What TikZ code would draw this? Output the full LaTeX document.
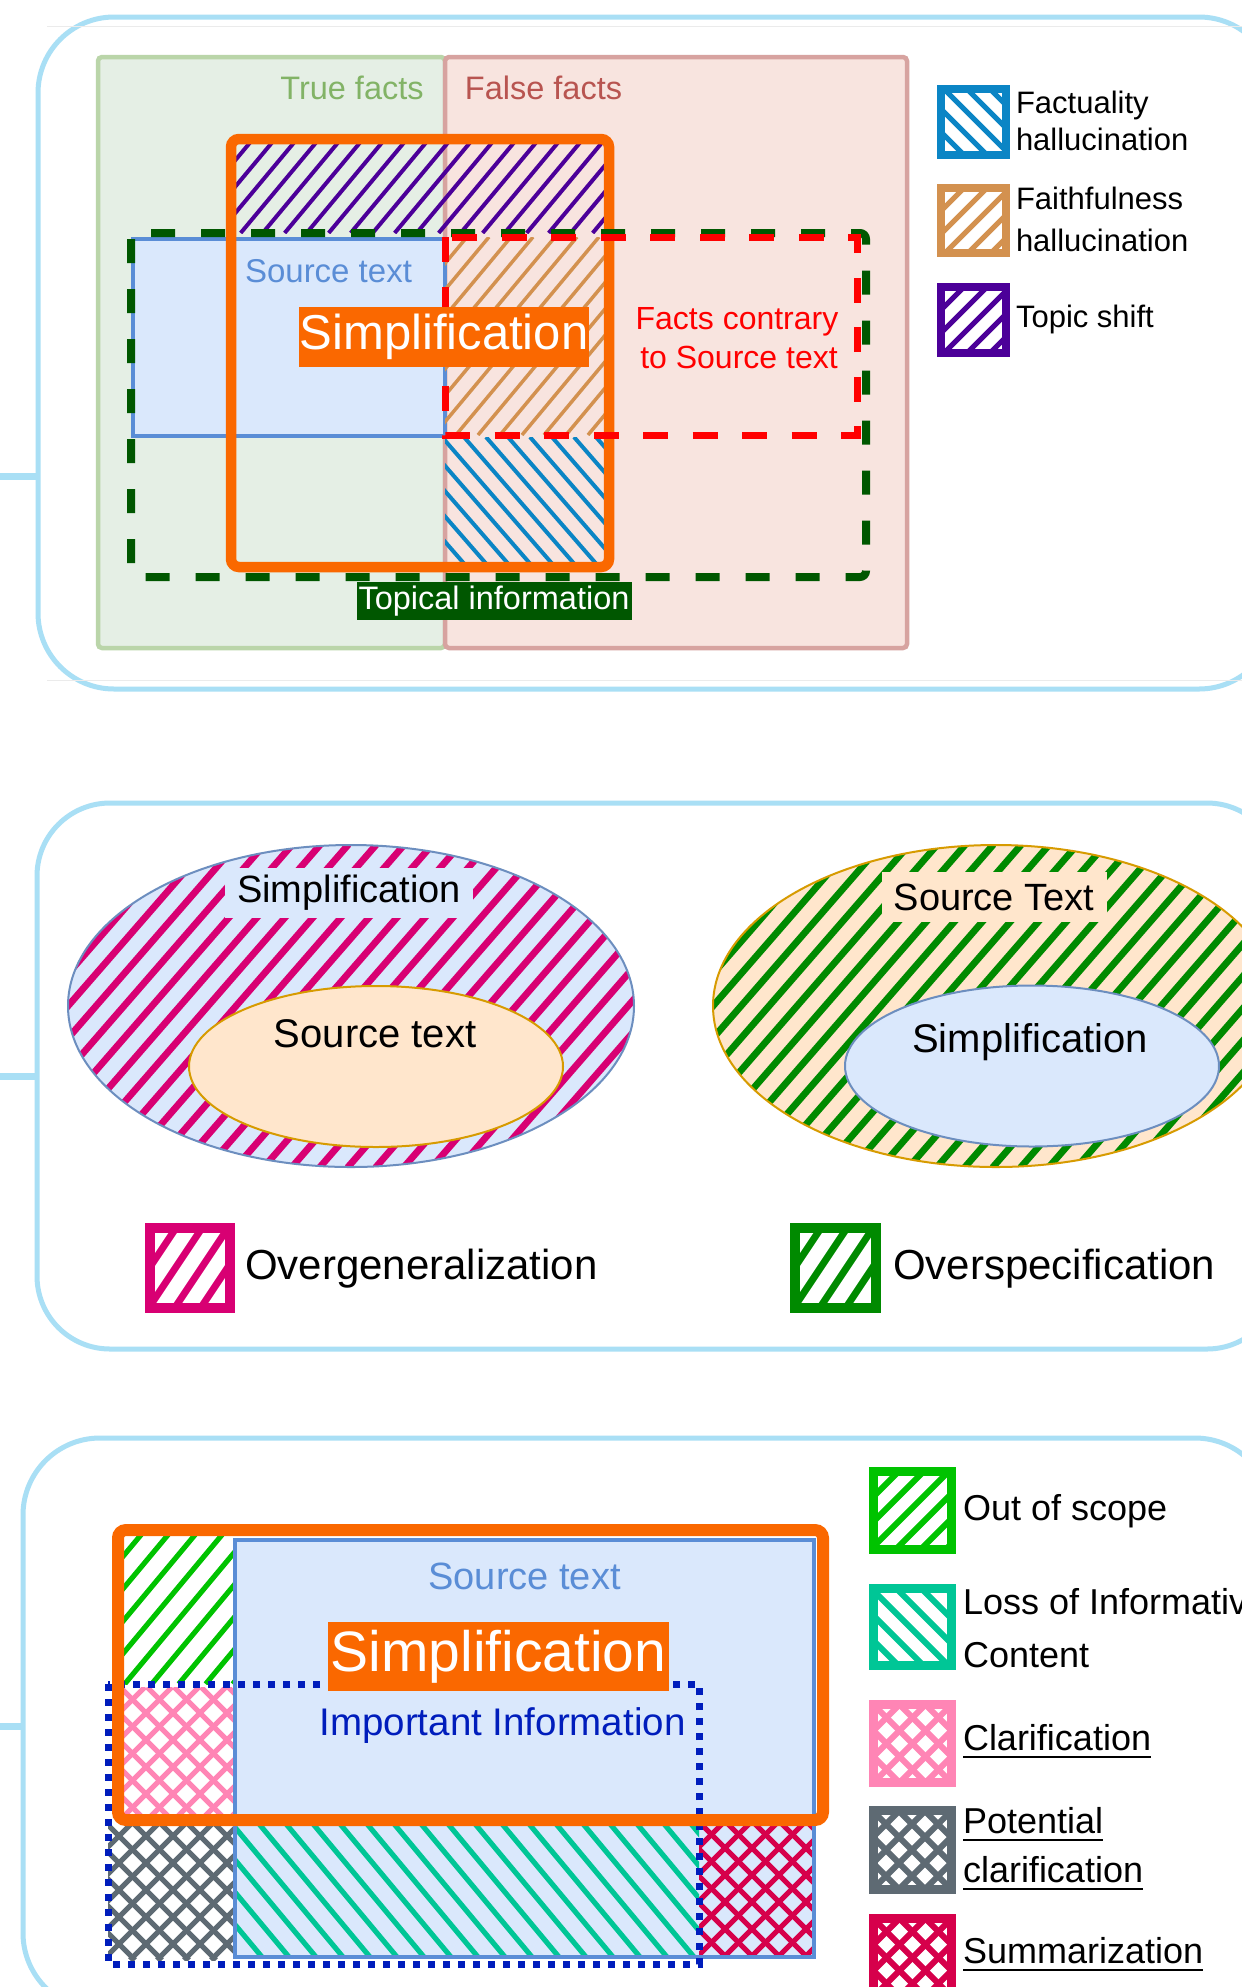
\documentclass[tikz,border=0pt]{standalone}
\usepackage{fontspec}
\setmainfont{Liberation Sans}
\definecolor{frameblue}{HTML}{A9DFF5}
\definecolor{truefill}{HTML}{E5EFE5}
\definecolor{truestroke}{HTML}{BAD5A9}
\definecolor{truetext}{HTML}{82B366}
\definecolor{falsefill}{HTML}{F8E4DF}
\definecolor{falsestroke}{HTML}{D7A3A0}
\definecolor{falsetext}{HTML}{B85450}
\definecolor{simporange}{HTML}{FA6800}
\definecolor{srcfill}{HTML}{DAE8FC}
\definecolor{srcstroke}{HTML}{5A8DD6}
\definecolor{topgreen}{HTML}{005700}
\definecolor{contrared}{HTML}{FF0000}
\definecolor{topicpurple}{HTML}{4C0099}
\definecolor{faithtan}{HTML}{D3914F}
\definecolor{factblue}{HTML}{0B85C5}
\definecolor{ellblue}{HTML}{6C8EBF}
\definecolor{peachfill}{HTML}{FFE6CC}
\definecolor{peachstroke}{HTML}{D79B00}
\definecolor{overgen}{HTML}{D80073}
\definecolor{overspec}{HTML}{008A00}
\definecolor{scopegreen}{HTML}{00C300}
\definecolor{lossteal}{HTML}{00C696}
\definecolor{clarpink}{HTML}{FF85B5}
\definecolor{potgray}{HTML}{5E6A73}
\definecolor{summcrimson}{HTML}{D6004B}
\definecolor{impblue}{HTML}{001DBC}
\newcommand{\fsz}[2]{\fontsize{#1}{#2}\selectfont}
\newcommand{\ulbox}[1]{\leavevmode\setbox0=\hbox{#1}\rlap{\rule[-3.75pt]{\wd0}{1pt}}\box0}
% "/" hatch: xmin ymin xmax ymax spacing tan style
\newcommand{\hatchfwd}[7]{%
  \pgfmathsetmacro\hH{(#4)-(#2)}%
  \pgfmathsetmacro\hD{\hH/(#6)}%
  \pgfmathsetmacro\hA{(#1)-\hD}%
  \pgfmathsetmacro\hB{\hA+(#5)}%
  \foreach \hx in {\hA,\hB,...,#3}{\draw[#7] (\hx,#4) -- ++(\hD,-\hH);}%
}
% "\" hatch
\newcommand{\hatchbwd}[7]{%
  \pgfmathsetmacro\hH{(#4)-(#2)}%
  \pgfmathsetmacro\hD{\hH/(#6)}%
  \pgfmathsetmacro\hA{(#1)-\hD}%
  \pgfmathsetmacro\hB{\hA+(#5)}%
  \foreach \hx in {\hA,\hB,...,#3}{\draw[#7] (\hx,#2) -- ++(\hD,\hH);}%
}
\begin{document}
\begin{tikzpicture}[x=0.5pt,y=-0.5pt,
  frame/.style={draw=frameblue,line width=2.5pt},
  stub/.style={draw=frameblue,line width=3.5pt},
  txt/.style={inner sep=0pt,outer sep=0pt},
  labelbox/.style={inner sep=0pt,outer sep=0pt}]
\fill[white] (0,0) rectangle (1242,1987);
\path[use as bounding box] (0,0) rectangle (1242,1987);
\clip (0,0) rectangle (1242,1987);

% ---------- panel frames ----------
\draw[frame,rounded corners=38pt] (38,17) rectangle (1275,689);
\draw[frame,rounded corners=36.5pt] (37,803) rectangle (1280,1349);
\draw[frame,rounded corners=38.5pt] (23,1438) rectangle (1272,2010);
\coordinate (s1) at (0,476);  \coordinate (f1) at (38,476);
\coordinate (s2) at (0,1076); \coordinate (f2) at (37,1076);
\coordinate (s3) at (0,1726); \coordinate (f3) at (23,1726);
\draw[stub] (s1) -- (f1);
\draw[stub] (s2) -- (f2);
\draw[stub] (s3) -- (f3);
\draw[black!8,line width=0.5pt] (47,26) -- (1242,26);
\draw[black!8,line width=0.5pt] (47,680) -- (1242,680);

% ---------- panel 1 ----------
\draw[fill=truefill,draw=truestroke,line width=2.25pt,rounded corners=2pt] (98,57) rectangle (445,648);
\draw[fill=falsefill,draw=falsestroke,line width=2.25pt,rounded corners=2pt] (445,57) rectangle (907,648);
\draw[fill=srcfill,draw=srcstroke,line width=2pt] (133,239) rectangle (445,436);
\begin{scope}
  \clip (231,139) rectangle (609,233);
  \hatchfwd{231}{139}{609}{233}{22}{1.2}{topicpurple,line width=2pt}
\end{scope}
\begin{scope}
  \clip (445,237) rectangle (609,435);
  \hatchfwd{445}{237}{609}{435}{22}{1.2}{faithtan,line width=1.75pt}
\end{scope}
\begin{scope}
  \clip (445,437) rectangle (609,567);
  \hatchbwd{445}{437}{609}{567}{22}{1.15}{factblue,line width=2pt}
\end{scope}
\draw[simporange,line width=5.25pt,rounded corners=4pt] (231,139) rectangle (609,567);
\draw[topgreen,line width=4pt,dash pattern=on 12pt off 13pt,rounded corners=3pt] (131,233) rectangle (866,577);
\draw[contrared,line width=3.5pt,dash pattern=on 12.5pt off 12.25pt] (445,237) rectangle (857,435);

\node[txt,text=truetext,font=\fsz{16.25}{19.5},anchor=base] (truefacts) at (352,99) {True facts};
\node[txt,text=falsetext,font=\fsz{16.25}{19.5},anchor=base] (falsefacts) at (543.5,99) {False facts};
\node[txt,text=srcstroke,font=\fsz{16.5}{19.8},anchor=base] (src1) at (328.5,282) {Source text};
\node[labelbox,fill=simporange,text=white,font=\fsz{24.5}{29},minimum width=145pt,minimum height=30pt] (simp1) at (444,337) {Simplification};
\node[txt,text=contrared,font=\fsz{16}{19.2},anchor=base] (fcA) at (737,329) {Facts contrary};
\node[txt,text=contrared,font=\fsz{16}{19.2},anchor=base] (fcB) at (739,368) {to Source text};
\node[labelbox,fill=topgreen,text=white,font=\fsz{16.25}{19.5},minimum width=137.5pt,minimum height=19pt] (topical) at (494,601) {Topical information};

% legend panel 1
\begin{scope}
  \clip (941,89) rectangle (1006,155);
  \hatchbwd{941}{89}{1006}{155}{23}{1.0}{factblue,line width=2.5pt}
\end{scope}
\draw[factblue,line width=4pt] (941,89) rectangle (1006,155);
\begin{scope}
  \clip (941,188) rectangle (1006,253);
  \hatchfwd{941}{188}{1006}{253}{23}{1.0}{faithtan,line width=2.5pt}
\end{scope}
\draw[faithtan,line width=4pt] (941,188) rectangle (1006,253);
\begin{scope}
  \clip (941,287) rectangle (1006,353);
  \hatchfwd{941}{287}{1006}{353}{23}{1.0}{topicpurple,line width=2.5pt}
\end{scope}
\draw[topicpurple,line width=4pt] (941,287) rectangle (1006,353);
\node[txt,font=\fsz{15.5}{18.6},anchor=base west] (lgA1) at (1016,113) {Factuality};
\node[txt,font=\fsz{15.5}{18.6},anchor=base west] (lgA2) at (1016,150) {hallucination};
\node[txt,font=\fsz{15.5}{18.6},anchor=base west] (lgB1) at (1016,209) {Faithfulness};
\node[txt,font=\fsz{15.5}{18.6},anchor=base west] (lgB2) at (1016,251) {hallucination};
\node[txt,font=\fsz{15.5}{18.6},anchor=base west] (lgC1) at (1016,327) {Topic shift};

% ---------- panel 2 ----------
\fill[srcfill] (351,1006) ellipse [x radius=141.5pt,y radius=80.5pt];
\begin{scope}
  \clip (351,1006) ellipse [x radius=141.5pt,y radius=80.5pt];
  \hatchfwd{68}{845}{634}{1167}{28}{1.15}{overgen,line width=3.4pt,line cap=round}
\end{scope}
\draw[ellblue,line width=1pt] (351,1006) ellipse [x radius=141.5pt,y radius=80.5pt];
\draw[fill=peachfill,draw=peachstroke,line width=1pt] (376,1066.5) ellipse [x radius=93.5pt,y radius=40.25pt];
\node[labelbox,fill=srcfill,font=\fsz{19}{23},minimum width=124pt,minimum height=25pt] (lsimp) at (349,893) {Simplification};
\node[txt,font=\fsz{20}{24},anchor=base] (lsrc) at (375,1047) {Source text};

\fill[peachfill] (996,1006) ellipse [x radius=141.5pt,y radius=80.5pt];
\begin{scope}
  \clip (996,1006) ellipse [x radius=141.5pt,y radius=80.5pt];
  \hatchfwd{713}{845}{1279}{1167}{28}{1.15}{overspec,line width=3.4pt,line cap=round}
\end{scope}
\draw[peachstroke,line width=1pt] (996,1006) ellipse [x radius=141.5pt,y radius=80.5pt];
\draw[fill=srcfill,draw=ellblue,line width=1pt] (1032,1066) ellipse [x radius=93.5pt,y radius=40.25pt];
\node[labelbox,fill=peachfill,font=\fsz{19}{23},minimum width=112.5pt,minimum height=25pt] (rsrc) at (994,897) {Source Text};
\node[txt,font=\fsz{20}{24},anchor=base] (rsimp) at (1030,1052) {Simplification};

% legend panel 2
\begin{scope}
  \clip (150,1228) rectangle (230,1308);
  \hatchfwd{150}{1228}{230}{1308}{26}{1.5}{overgen,line width=3.5pt}
\end{scope}
\draw[overgen,line width=5pt] (150,1228) rectangle (230,1308);
\begin{scope}
  \clip (795,1228) rectangle (876,1308);
  \hatchfwd{795}{1228}{876}{1308}{26}{1.5}{overspec,line width=3.5pt}
\end{scope}
\draw[overspec,line width=5pt] (795,1228) rectangle (876,1308);
\node[txt,font=\fsz{21}{25},anchor=base west] (ogen) at (245,1279) {Overgeneralization};
\node[txt,font=\fsz{21}{25},anchor=base west] (ospec) at (893,1279) {Overspecification};

% ---------- panel 3 ----------
\fill[srcfill] (235,1540) rectangle (814,1957);
\begin{scope}
  \clip (118,1530) rectangle (233,1684);
  \hatchfwd{118}{1530}{233}{1684}{27}{1.2}{scopegreen,line width=2.6pt}
\end{scope}
\begin{scope}
  \clip (118,1687) rectangle (233,1820);
  \hatchfwd{118}{1687}{233}{1820}{27}{1.0}{clarpink,line width=2.6pt}
  \hatchbwd{118}{1687}{233}{1820}{27}{1.0}{clarpink,line width=2.6pt}
\end{scope}
\begin{scope}
  \clip (108,1820) rectangle (233,1960);
  \hatchfwd{108}{1820}{233}{1960}{27}{1.0}{potgray,line width=2.6pt}
  \hatchbwd{108}{1820}{233}{1960}{27}{1.0}{potgray,line width=2.6pt}
\end{scope}
\begin{scope}
  \clip (235,1820) rectangle (699,1957);
  \hatchbwd{235}{1820}{699}{1957}{27}{1.2}{lossteal,line width=2.6pt}
\end{scope}
\begin{scope}
  \clip (699,1820) rectangle (814,1957);
  \hatchfwd{699}{1820}{814}{1957}{27}{1.0}{summcrimson,line width=2.6pt}
  \hatchbwd{699}{1820}{814}{1957}{27}{1.0}{summcrimson,line width=2.6pt}
\end{scope}
\draw[srcstroke,line width=2pt] (235,1540) rectangle (814,1957);
\draw[impblue,line width=3.5pt,dash pattern=on 3.5pt off 4pt] (108,1684) rectangle (699,1964);
\draw[simporange,line width=6pt,rounded corners=4pt] (118,1530) rectangle (823,1820);
\node[txt,text=srcstroke,font=\fsz{19}{23},anchor=base] (src3) at (524.5,1589) {Source text};
\node[labelbox,fill=simporange,text=white,font=\fsz{28.5}{34},minimum width=170.5pt,minimum height=34.5pt] (simp3) at (498.5,1656.5) {Simplification};
\node[txt,text=impblue,font=\fsz{19.25}{23},anchor=base] (impinfo) at (502.5,1735) {Important Information};

% legend panel 3
\begin{scope}
  \clip (873.5,1471.5) rectangle (951.5,1549.5);
  \hatchfwd{873.5}{1471.5}{951.5}{1549.5}{25}{1.0}{scopegreen,line width=3pt}
\end{scope}
\draw[scopegreen,line width=4.5pt] (873.5,1471.5) rectangle (951.5,1549.5);
\begin{scope}
  \clip (873.5,1588.5) rectangle (951.5,1665.5);
  \hatchbwd{873.5}{1588.5}{951.5}{1665.5}{25}{1.0}{lossteal,line width=3pt}
\end{scope}
\draw[lossteal,line width=4.5pt] (873.5,1588.5) rectangle (951.5,1665.5);
\begin{scope}
  \clip (873.5,1704.5) rectangle (951.5,1782.5);
  \hatchfwd{873.5}{1704.5}{951.5}{1782.5}{26}{1.0}{clarpink,line width=3pt}
  \hatchbwd{873.5}{1704.5}{951.5}{1782.5}{26}{1.0}{clarpink,line width=3pt}
\end{scope}
\draw[clarpink,line width=4.5pt] (873.5,1704.5) rectangle (951.5,1782.5);
\begin{scope}
  \clip (873.5,1810.5) rectangle (951.5,1889.5);
  \hatchfwd{873.5}{1810.5}{951.5}{1889.5}{26}{1.0}{potgray,line width=3pt}
  \hatchbwd{873.5}{1810.5}{951.5}{1889.5}{26}{1.0}{potgray,line width=3pt}
\end{scope}
\draw[potgray,line width=4.5pt] (873.5,1810.5) rectangle (951.5,1889.5);
\begin{scope}
  \clip (873.5,1918.5) rectangle (951.5,1996.5);
  \hatchfwd{873.5}{1918.5}{951.5}{1996.5}{26}{1.0}{summcrimson,line width=3pt}
  \hatchbwd{873.5}{1918.5}{951.5}{1996.5}{26}{1.0}{summcrimson,line width=3pt}
\end{scope}
\draw[summcrimson,line width=4.5pt] (873.5,1918.5) rectangle (951.5,1996.5);
\node[txt,font=\fsz{18}{21.6},anchor=base west] (lgscope) at (963,1520) {Out of scope};
\node[txt,font=\fsz{18}{21.6},anchor=base west] (lglossA) at (963,1614.5) {Loss of Informative};
\node[txt,font=\fsz{18}{21.6},anchor=base west] (lglossB) at (963,1667.5) {Content};
\node[txt,font=\fsz{18}{21.6},anchor=base west] (lgclar) at (963,1750.5) {\ulbox{Clarification}};
\node[txt,font=\fsz{18}{21.6},anchor=base west] (lgpotA) at (963,1833.5) {\ulbox{Potential}};
\node[txt,font=\fsz{18}{21.6},anchor=base west] (lgpotB) at (963,1882) {\ulbox{clarification}};
\node[txt,font=\fsz{18}{21.6},anchor=base west] (lgsumm) at (963,1963) {\ulbox{Summarization}};
\end{tikzpicture}
\end{document}
